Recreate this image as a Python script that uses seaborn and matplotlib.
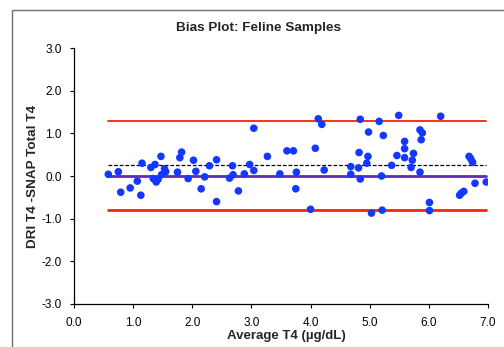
import numpy as np
import matplotlib
matplotlib.use("Agg")
import matplotlib.pyplot as plt
import seaborn as sns
from matplotlib.patches import Rectangle

# average of the two methods (ug/dL)
avg_t4 = [0.58, 0.75, 0.79, 0.95, 1.07, 1.13, 1.15, 1.30, 1.37, 1.47,
          1.34, 1.39, 1.42, 1.48, 1.53, 1.55, 1.75, 1.79, 1.82, 1.93,
          2.02, 2.06, 2.15, 2.21, 2.29, 2.41, 2.41, 2.63, 2.68, 2.69,
          2.78, 2.88, 2.97, 3.04, 3.04, 3.27, 3.48, 3.60, 3.71, 3.76,
          3.75, 4.00, 4.08, 4.13, 4.19, 4.23, 4.68, 4.68, 4.81, 4.82,
          4.84, 4.84, 4.95, 4.97, 4.98, 5.03, 5.16, 5.20, 5.21, 5.23,
          5.37, 5.46, 5.49, 5.59, 5.59, 5.59, 5.70, 5.72, 5.74, 5.85,
          5.89, 5.87, 5.85, 6.01, 6.01, 6.20, 6.52, 6.55, 6.59, 6.68,
          6.71, 6.74, 6.78, 6.97]
# DRI T4 - SNAP total T4
diff_t4 = [0.04, 0.10, -0.38, -0.28, -0.12, -0.45, 0.30, 0.20, 0.27, 0.46,
           -0.06, -0.14, -0.08, 0.03, 0.17, 0.10, 0.09, 0.43, 0.56, -0.06,
           0.37, 0.11, -0.30, -0.02, 0.24, 0.38, -0.60, -0.05, 0.24, 0.03,
           -0.35, 0.05, 0.27, 1.12, 0.13, 0.46, 0.05, 0.59, 0.59, 0.09,
           -0.30, -0.78, 0.65, 1.34, 1.21, 0.14, 0.22, 0.04, 0.19, 0.55,
           1.33, -0.07, 0.30, 0.46, 1.03, -0.87, 1.28, 0.00, -0.80, 0.95,
           0.25, 0.48, 1.42, 0.81, 0.64, 0.43, 0.20, 0.37, 0.53, 1.08,
           1.01, 0.85, 0.09, -0.62, -0.81, 1.40, -0.45, -0.40, -0.36, 0.46,
           0.40, 0.32, -0.17, -0.14]

bias = 0.25
upper_loa = 1.30
lower_loa = -0.80
zero_line = 0.0

sns.set_style("white")
plt.rcParams['font.family'] = ['Liberation Sans', 'DejaVu Sans']

fig = plt.figure(figsize=(5.04, 3.47), dpi=100)
ax = fig.add_axes([74 / 504, 1 - 304 / 347, 414 / 504, 256 / 347])

# chart area border (cut off on right/bottom)
fig.patches.append(Rectangle((12 / 504, -0.5), 2, 1.5 - 10 / 347,
                             transform=fig.transFigure, fill=False,
                             edgecolor='#6e6e6e', linewidth=1.0))

x0, x1 = min(avg_t4), max(avg_t4)
ax.plot([x0, x1], [upper_loa, upper_loa], color='#ff2200', lw=1.3, zorder=1)
ax.plot([x0, x1], [lower_loa, lower_loa], color='#ff2200', lw=2, zorder=1)
ax.plot([x0, x1], [bias, bias], color='black', lw=0.9, ls=(0, (3, 1.5)), zorder=1)
ax.plot([x0, x1], [zero_line, zero_line], color='#5b2db8', lw=2, zorder=1)

sns.scatterplot(x=avg_t4, y=diff_t4, ax=ax, color='#1438ff', s=30,
                edgecolor='none', zorder=3)

ax.set_xlim(0, 7)
ax.set_ylim(-3, 3)
ax.set_xticks(np.arange(0, 8, 1))
ax.set_yticks(np.arange(-3, 4, 1))
ax.set_xticklabels([f"{v:.1f}" for v in range(0, 8)])
ax.set_yticklabels([f"{v:.1f}" for v in range(-3, 4)])
ax.tick_params(direction='out', length=3, width=0.8, labelsize=8.5,
               colors='black', left=True, bottom=True, pad=6)
sns.despine(ax=ax)
for s in ['left', 'bottom']:
    ax.spines[s].set_color('black')
    ax.spines[s].set_linewidth(0.9)

fig.text(259 / 504, 1 - 28 / 347, 'Bias Plot: Feline Samples',
         ha='center', va='center', fontsize=9.7, fontweight='bold')
fig.text(286 / 504, 1 - 336 / 347, 'Average T4 (\u00b5g/dL)',
         ha='center', va='center', fontsize=9.5, fontweight='bold')
fig.text(33 / 504, 1 - 176 / 347, 'DRI T4 -SNAP Total T4', rotation=90,
         ha='center', va='center', fontsize=9.7, fontweight='bold')

fig.savefig('out.png', dpi=100)
